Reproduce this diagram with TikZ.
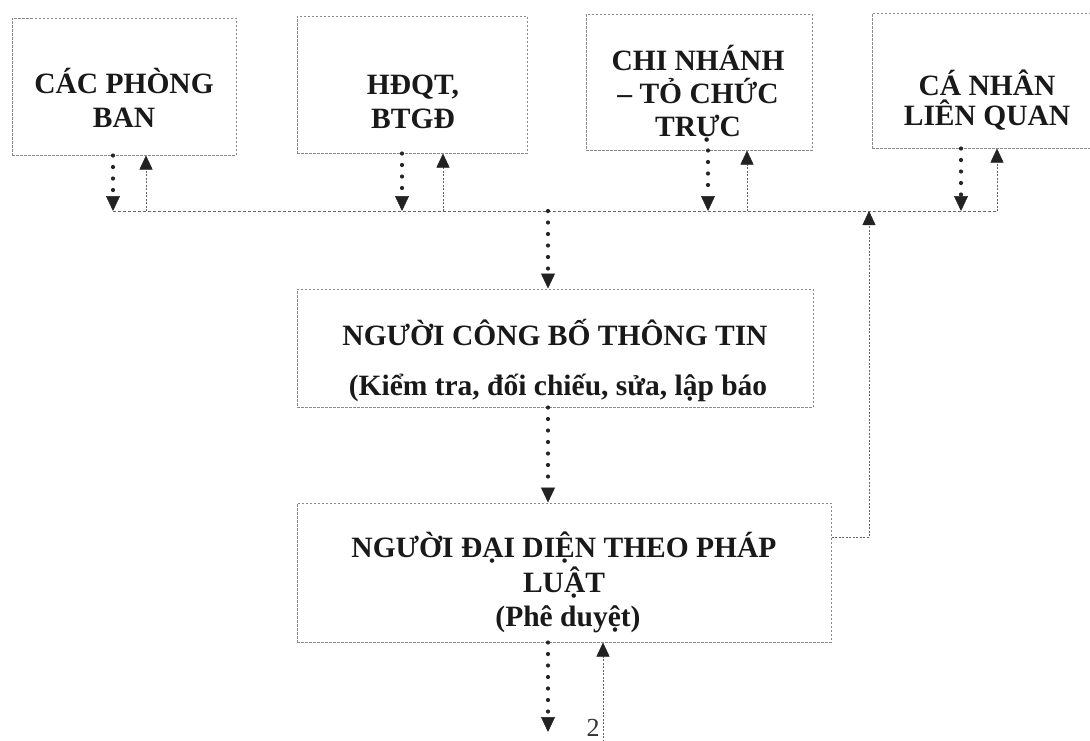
\documentclass[tikz,border=0pt]{standalone}
\usepackage{fontspec}
\setmainfont{Liberation Serif}
\usetikzlibrary{arrows.meta,calc}
\definecolor{boxline}{HTML}{8A8A8A}
\definecolor{busline}{HTML}{666666}
\definecolor{tipcol}{HTML}{222222}
\begin{document}
\begin{tikzpicture}[x=1pt,y=-1pt,
  frame/.style={draw=boxline, line width=1pt, dash pattern=on 2.5pt off 1.5pt, inner sep=0pt},
  tx/.style={font=\fontsize{29.5}{34}\selectfont\bfseries, inner sep=0pt, anchor=base, text=black!90},
  bus/.style={draw=busline, line width=1pt, dash pattern=on 3pt off 2pt},
  downarr/.style={draw=black!85, line width=4.2pt, line cap=round, dash pattern=on 0pt off 11.5pt,
    -{Triangle[width=14pt,length=15pt,line width=0.5pt,fill=tipcol,color=tipcol]}},
  uparr/.style={draw=busline, line width=1pt, dash pattern=on 2pt off 1.5pt,
    -{Triangle[width=13pt,length=14pt,line width=0.5pt,fill=tipcol,color=tipcol]}},
  numtx/.style={font=\fontsize{26}{30}\selectfont, inner sep=0pt, anchor=base, text=black!80},
]
\useasboundingbox (0,0) rectangle (1090,740);
\clip (0,0) rectangle (1090,740);

% boxes
\node[frame, minimum width=224pt, minimum height=137pt] (b1) at (124,86.5) {};
\node[frame, minimum width=230pt, minimum height=137pt] (b2) at (412,84.5) {};
\node[frame, minimum width=226pt, minimum height=136pt] (b3) at (699,82) {};
\node[frame, minimum width=230pt, minimum height=135pt] (b4) at (987,80.5) {};
\node[frame, minimum width=516pt, minimum height=118pt] (b5) at (555,348) {};
\node[frame, minimum width=534pt, minimum height=139pt] (b6) at (564,572.5) {};

% texts
\node[tx] (t1a) at (124,93) {CÁC PHÒNG};
\node[tx] (t1b) at (124,127) {BAN};
\node[tx] (t2a) at (413,94) {HĐQT,};
\node[tx] (t2b) at (413,128) {BTGĐ};
\node[tx] (t3a) at (698,70) {CHI NHÁNH};
\node[tx] (t3b) at (698,103) {– TỎ CHỨC};
\node[tx] (t3c) at (698,136) {TRỰC};
\node[tx] (t4a) at (987,95) {CÁ NHÂN};
\node[tx] (t4b) at (987,125) {LIÊN QUAN};
\node[tx] (t5a) at (555,345) {NGƯỜI CÔNG BỐ THÔNG TIN};
\node[tx] (t5b) at (558,395) {(Kiểm tra, đối chiếu, sửa, lập báo};
\node[tx] (t6a) at (564,557) {NGƯỜI ĐẠI DIỆN THEO PHÁP};
\node[tx] (t6b) at (564,592) {LUẬT};
\node[tx] (t6c) at (568,626) {(Phê duyệt)};

% bus coordinates
\coordinate (j1) at (113,211);
\coordinate (k1) at (146,211);
\coordinate (j2) at (402,211);
\coordinate (k2) at (443,211);
\coordinate (j3) at (708,211);
\coordinate (k3) at (747,211);
\coordinate (j4) at (961,211);
\coordinate (k4) at (997,211);
\coordinate (jc) at (548,211);
\coordinate (jr) at (869,211);
\coordinate (rt) at (869,537);
\coordinate (out) at (548,732);
\coordinate (in) at (603,745);

% bus line
\draw[bus] (j1) -- (k4);

% box <-> bus connectors
\draw[downarr] (b1.south -| j1) -- (j1);
\draw[uparr] (k1) -- (k1 |- b1.south);
\draw[downarr] (b2.south -| j2) -- (j2);
\draw[uparr] (k2) -- (k2 |- b2.south);
\draw[downarr] (b3.south -| j3) -- (j3);
\draw[uparr] (k3) -- (k3 |- b3.south);
\draw[downarr] (b4.south -| j4) -- (j4);
\draw[uparr] (k4) -- (k4 |- b4.south);

% central flow
\draw[downarr] (jc) -- (jc |- b5.north);
\draw[downarr] (b5.south -| jc) -- (b6.north -| jc);
\draw[uparr] (b6.east |- rt) -- (rt) -- (jr);
\draw[downarr] (b6.south -| out) -- (out);
\draw[uparr] (in) -- (in |- b6.south);
\node[numtx] (n2) at (593,736) {2};
\end{tikzpicture}
\end{document}
